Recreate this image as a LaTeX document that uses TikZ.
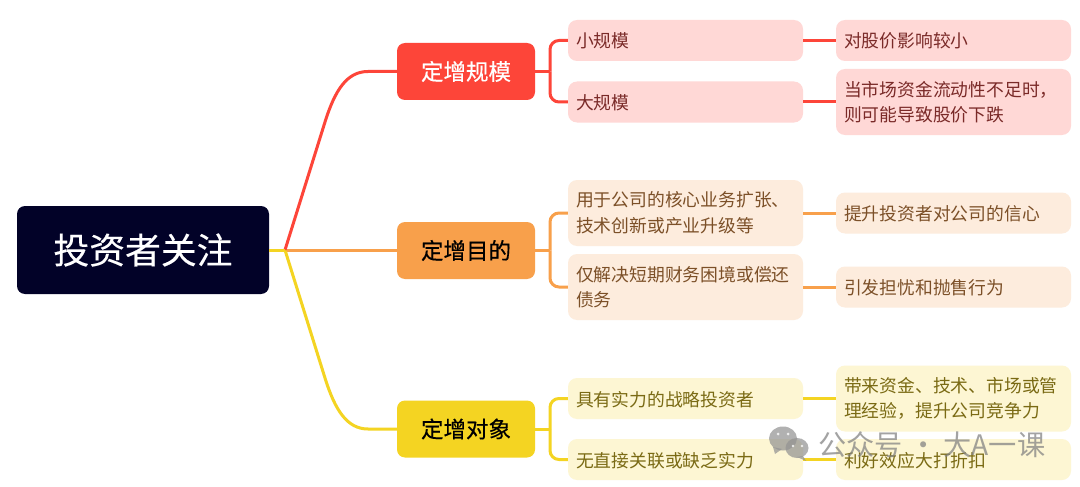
\documentclass[tikz,border=0pt]{standalone}
\usepackage{fontspec}
\setmainfont{Noto Sans CJK SC}
\newfontfamily\boldcjk[FakeBold=0.35]{Noto Sans CJK SC}
\definecolor{cRoot}{HTML}{020228}
\definecolor{cRed}{HTML}{FD4539}
\definecolor{cOrange}{HTML}{F8A04B}
\definecolor{cYellow}{HTML}{F4D422}
\definecolor{fRed}{HTML}{FFD8D6}
\definecolor{fOrange}{HTML}{FDECDD}
\definecolor{fYellow}{HTML}{FDF6D3}
\definecolor{tRed}{HTML}{7A2A28}
\definecolor{tOrange}{HTML}{7C5028}
\definecolor{tYellow}{HTML}{7A6A14}
\tikzset{
  rootbox/.style={rectangle,rounded corners=8pt,fill=cRoot,text=white,minimum width=252pt,minimum height=88pt,inner sep=0pt,font=\boldcjk\fontsize{35.8}{40}\selectfont},
  mainbox/.style={rectangle,rounded corners=8pt,minimum width=138pt,minimum height=57pt,inner sep=0pt,font=\boldcjk\fontsize{22.5}{28}\selectfont},
  leafbox/.style={rectangle,rounded corners=9pt,text width=219pt,inner xsep=8pt,inner ysep=0pt,minimum width=235pt,align=left,font=\fontsize{17.8}{25.5}\selectfont},
  oneline/.style={minimum height=41pt,text height=17pt,text depth=2pt},
  twolines/.style={minimum height=66pt},
  redleaf/.style={leafbox,fill=fRed,text=tRed},
  orangeleaf/.style={leafbox,fill=fOrange,text=tOrange},
  yellowleaf/.style={leafbox,fill=fYellow,text=tYellow},
  wire/.style={line width=3pt},
  elbow/.style={wire,rounded corners=9pt},
}
\begin{document}
\begin{tikzpicture}[x=1pt,y=-1pt]
\useasboundingbox (0,0) rectangle (1080,487);
\fill[white] (0,0) rectangle (1080,487);
% nodes
\node[rootbox] (root) at (143,250) {投资者关注};
\node[mainbox,fill=cRed,text=white] (ma) at (466,71.5) {定增规模};
\node[mainbox,fill=cOrange,text=black] (mb) at (466,250.5) {定增目的};
\node[mainbox,fill=cYellow,text=black] (mc) at (466,429) {定增对象};

\node[redleaf,oneline] (a1) at (685.5,40.5) {小规模};
\node[redleaf,oneline] (a2) at (685.5,102) {大规模};
\node[redleaf,oneline] (a3) at (953.5,40.5) {对股价影响较小};
\node[redleaf,twolines] (a4) at (953.5,102) {当市场资金流动性不足时，\\则可能导致股价下跌};

\node[orangeleaf,twolines] (b1) at (685.5,213) {用于公司的核心业务扩张、\\技术创新或产业升级等};
\node[orangeleaf,twolines] (b2) at (685.5,287) {仅解决短期财务困境或偿还\\债务};
\node[orangeleaf,oneline] (b3) at (953.5,213) {提升投资者对公司的信心};
\node[orangeleaf,oneline] (b4) at (953.5,287) {引发担忧和抛售行为};

\node[yellowleaf,oneline] (c1) at (685.5,398.5) {具有实力的战略投资者};
\node[yellowleaf,oneline] (c2) at (685.5,459.5) {无直接关联或缺乏实力};
\node[yellowleaf,twolines] (c3) at (953.5,398.5) {带来资金、技术、市场或管\\理经验，提升公司竞争力};
\node[yellowleaf,oneline] (c4) at (953.5,459.5) {利好效应大打折扣};

% junctions
\coordinate (hub) at (285,250);
\coordinate (ja) at (550,71.5);
\coordinate (jb) at (550,250.5);
\coordinate (jc) at (550,429);

% trunk connectors
\draw[wire,cOrange] (hub |- mb.west) -- (mb.west);
\draw[wire,cYellow] (hub) -- (325,378) .. controls (335,410) and (347,429) .. (368,429) -- (mc.west);
\draw[wire,cRed] (hub) -- (325,122) .. controls (335,90) and (347,71.5) .. (368,71.5) -- (ma.west);
\draw[wire,cYellow] (root.east) -- (hub);

% branch connectors
\draw[wire,cRed] (ma.east) -- (ja);
\draw[elbow,cRed] (ja) |- (a1.west);
\draw[elbow,cRed] (ja) |- (a2.west);
\draw[wire,cRed] (a1.east) -- (a3.west);
\draw[wire,cRed] (a2.east) -- (a4.west);

\draw[wire,cOrange] (mb.east) -- (jb);
\draw[elbow,cOrange] (jb) |- (b1.west);
\draw[elbow,cOrange] (jb) |- (b2.west);
\draw[wire,cOrange] (b1.east) -- (b3.west);
\draw[wire,cOrange] (b2.east) -- (b4.west);

\draw[wire,cYellow] (mc.east) -- (jc);
\draw[elbow,cYellow] (jc) |- (c1.west);
\draw[elbow,cYellow] (jc) |- (c2.west);
\draw[wire,cYellow] (c1.east) -- (c3.west);
\draw[wire,cYellow] (c2.east) -- (c4.west);

% watermark
\begin{scope}[opacity=.72]
\fill[gray!85] (783,438.5) ellipse [x radius=14,y radius=12];
\fill[gray!85] (773,447) -- (775,454) -- (782,449) -- cycle;
\fill[gray!85] (797,448) ellipse [x radius=11.5,y radius=10];
\fill[gray!85] (803,456) -- (806,461) -- (797,457) -- cycle;
\end{scope}
\fill[white,opacity=.8] (778,434) circle (1.5) (788,434) circle (1.5) (793,446) circle (1.3) (802,446) circle (1.3);
\node[text=gray,opacity=.72,inner sep=0pt,anchor=west,font=\fontsize{28.2}{30}\selectfont] (wm) at (818,445) {公众号 · 大A一课};
\end{tikzpicture}
\end{document}
